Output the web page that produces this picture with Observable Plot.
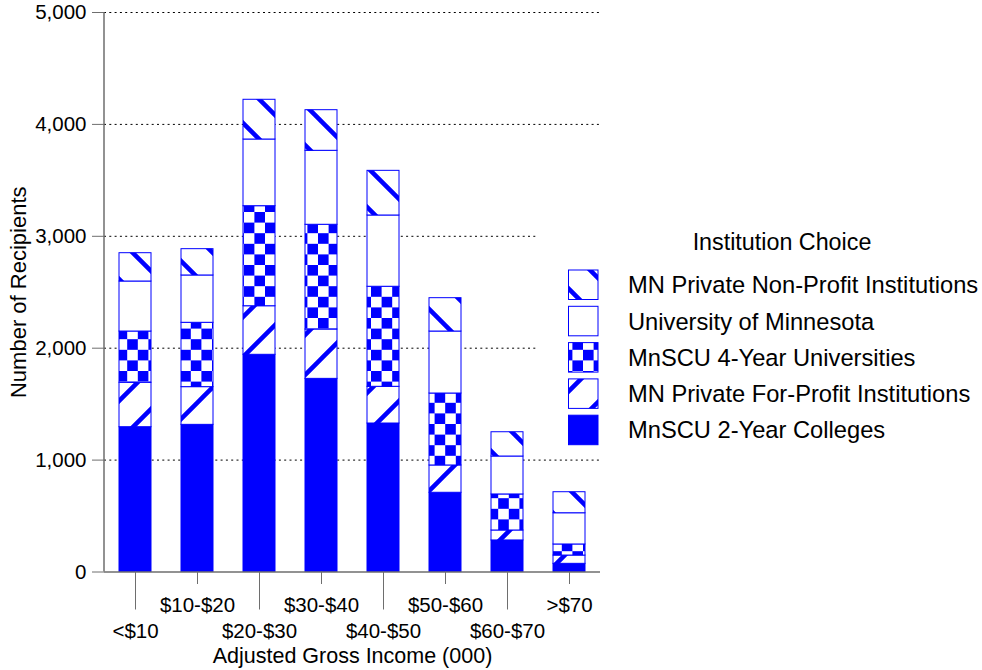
<!DOCTYPE html>
<html>
<head>
<meta charset="utf-8">
<script src="https://cdn.jsdelivr.net/npm/d3@7"></script>
<script src="https://cdn.jsdelivr.net/npm/@observablehq/plot@0.6"></script>
<style>
  html, body { margin: 0; padding: 0; background: #fff; }
  #chart { position: relative; width: 982px; height: 670px; font-family: "Liberation Sans", Arial, sans-serif; }
  svg { font-family: "Liberation Sans", Arial, sans-serif; }
</style>
</head>
<body>
<div id="chart"></div>
<script>
// ---- data ----
const categories = ["<$10", "$10-$20", "$20-$30", "$30-$40", "$40-$50", "$50-$60", "$60-$70", ">$70"];
const seriesNames = [
  "MnSCU 2-Year Colleges",
  "MN Private For-Profit Institutions",
  "MnSCU 4-Year Universities",
  "University of Minnesota",
  "MN Private Non-Profit Institutions"
];
const mnscu2yr  = [1294, 1315, 1941, 1726, 1327, 708, 282, 73];
const forProfit = [397, 337, 434, 441, 328, 244, 89, 74];
const mnscu4yr  = [458, 575, 894, 936, 894, 643, 322, 99];
const uofm      = [447, 423, 596, 661, 637, 554, 339, 279];
const nonProfit = [253, 235, 355, 363, 399, 298, 217, 188];
const yTicks = [0, 1000, 2000, 3000, 4000, 5000];
const longTickCats = ["<$10", "$20-$30", "$40-$50", "$60-$70"];
const shortTickCats = ["$10-$20", "$30-$40", "$50-$60", ">$70"];
const legendTitle = "Institution Choice";
const xTitle = "Adjusted Gross Income (000)";
const yTitle = "Number of Recipients";

const seriesValues = [mnscu2yr, forProfit, mnscu4yr, uofm, nonProfit];
const patternIds = ["url(#p-solid)", "url(#p-slash)", "url(#p-check)", "url(#p-white)", "url(#p-back)"];

const table = [];
seriesNames.forEach((s, i) => {
  categories.forEach((c, j) => table.push({income: c, series: s, value: seriesValues[i][j]}));
});

const BLUE = "#0000ff";
const FONT = "Liberation Sans, Arial, sans-serif";

const plot = Plot.plot({
  width: 982,
  height: 670,
  marginLeft: 104,
  marginRight: 382,
  marginTop: 12,
  marginBottom: 98.5,
  style: {fontFamily: FONT, background: "white", color: "black"},
  x: {domain: categories, paddingInner: 0.484, paddingOuter: 0.242, label: null},
  y: {domain: [0, 5000], label: null},
  color: {domain: seriesNames, range: patternIds},
  marks: [
    Plot.gridY(yTicks.filter(d => d > 0), {stroke: "black", strokeOpacity: 1, strokeWidth: 1, strokeDasharray: "2,3.3"}),
    Plot.barY(table, Plot.stackY({
      x: "income", y: "value", fill: "series", order: seriesNames,
      stroke: BLUE, strokeWidth: 1
    })),
    Plot.ruleY([0], {stroke: "#6e6e6e", strokeWidth: 1.5}),
    Plot.axisY({ticks: yTicks, tickFormat: d3.format(","), tickSize: 12, tickPadding: 6,
      fontSize: 20.5, stroke: "#6e6e6e", fill: "black", label: null}),
    Plot.axisX({ticks: longTickCats, tickSize: 38, tickPadding: 13, fontSize: 20.5,
      stroke: "#6e6e6e", fill: "black", label: null}),
    Plot.axisX({ticks: shortTickCats, tickSize: 12.5, tickPadding: 13, fontSize: 20.5,
      stroke: "#6e6e6e", fill: "black", label: null}),
    Plot.text([xTitle], {frameAnchor: "bottom", dy: 84.5, lineAnchor: "middle", fontSize: 21.5, fill: "black"}),
    Plot.text([yTitle], {frameAnchor: "left", dx: -86, rotate: -90, lineAnchor: "middle", textAnchor: "middle", fontSize: 22, fill: "black"})
  ]
});

const svg = d3.select(plot);
// pattern definitions
const defs = svg.insert("defs", ":first-child");
function stripe(id, d) {
  const p = defs.append("pattern").attr("id", id).attr("patternUnits", "userSpaceOnUse")
    .attr("width", 40).attr("height", 40);
  p.append("rect").attr("width", 40).attr("height", 40).attr("fill", "white");
  p.append("path").attr("d", d).attr("stroke", BLUE).attr("stroke-width", 4.5).attr("fill", "none");
}
stripe("p-back", "M0,0L40,40M-6,34L6,46M34,-6L46,6");
stripe("p-slash", "M0,40L40,0M-6,6L6,-6M34,46L46,34");
{
  const s = 10.6;
  const p = defs.append("pattern").attr("id", "p-check").attr("patternUnits", "userSpaceOnUse")
    .attr("width", 2 * s).attr("height", 2 * s);
  p.append("rect").attr("width", 2 * s).attr("height", 2 * s).attr("fill", "white");
  p.append("rect").attr("width", s).attr("height", s).attr("fill", BLUE);
  p.append("rect").attr("x", s).attr("y", s).attr("width", s).attr("height", s).attr("fill", BLUE);
}
defs.append("pattern").attr("id", "p-white").attr("patternUnits", "userSpaceOnUse").attr("width", 10).attr("height", 10)
  .append("rect").attr("width", 10).attr("height", 10).attr("fill", "white");
defs.append("pattern").attr("id", "p-solid").attr("patternUnits", "userSpaceOnUse").attr("width", 10).attr("height", 10)
  .append("rect").attr("width", 10).attr("height", 10).attr("fill", BLUE);

// y axis line, from the scales
const xr = plot.scale("x").range;
const yr = plot.scale("y").range;
svg.append("line").attr("x1", xr[0]).attr("x2", xr[0]).attr("y1", yr[0]).attr("y2", yr[1])
  .attr("stroke", "#6e6e6e").attr("stroke-width", 1.5);

// legend (box covers the grid lines, like the reference)
const lg = svg.append("g").attr("font-family", FONT).attr("text-anchor", "start");
lg.append("rect").attr("x", 537).attr("y", 200).attr("width", 445).attr("height", 258).attr("fill", "white");
lg.append("text").attr("x", 782).attr("y", 242).attr("dy", "0.35em").attr("text-anchor", "middle")
  .attr("font-size", 23.3).text(legendTitle);
const legendOrder = seriesNames.map((s, i) => i).reverse();
legendOrder.forEach((si, k) => {
  const y = 270 + k * 36.3;
  lg.append("rect").attr("x", 568.5).attr("y", y).attr("width", 29.5).attr("height", 29.5)
    .attr("fill", patternIds[si]).attr("stroke", BLUE).attr("stroke-width", 1);
  lg.append("text").attr("x", 628).attr("y", y + 15).attr("dy", "0.35em").attr("text-anchor", "start")
    .attr("font-size", 23.7).text(seriesNames[si]);
});

document.getElementById("chart").appendChild(plot);
</script>
</body>
</html>
